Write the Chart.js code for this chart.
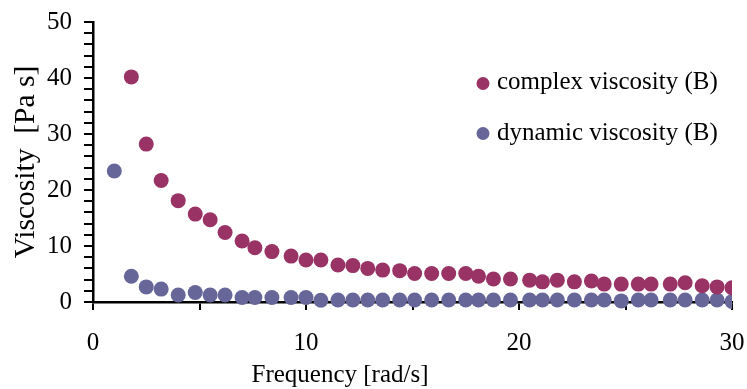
<!DOCTYPE html>
<html>
<head>
<meta charset="utf-8">
<script src="https://cdn.jsdelivr.net/npm/chart.js@4.4.1/dist/chart.umd.min.js"></script>
<style>
  html, body { margin: 0; padding: 0; background: #fff; }
  #wrap { width: 747px; height: 389px; position: relative; }
</style>
</head>
<body>
<div id="wrap"><canvas id="chart"></canvas></div>
<script>
"use strict";

// ── DATA ────────────────────────────────────
const FREQ = [1.0, 1.8, 2.5, 3.2, 4.0, 4.8, 5.5, 6.2, 7.0, 7.6,
              8.4, 9.3, 10.0, 10.7, 11.5, 12.2, 12.9, 13.6, 14.4, 15.1,
              15.9, 16.7, 17.5, 18.1, 18.8, 19.6, 20.5, 21.1, 21.8, 22.6,
              23.4, 24.0, 24.8, 25.6, 26.2, 27.1, 27.8, 28.6, 29.3, 30.0];

// complex viscosity: first frequency is off the top of the scale
const COMPLEX = [null, 40.2, 28.2, 21.7, 18.1, 15.7, 14.7, 12.4, 10.9, 9.7,
                 9.0, 8.2, 7.5, 7.5, 6.6, 6.5, 6.0, 5.7, 5.6, 5.1,
                 5.1, 5.1, 5.1, 4.6, 4.1, 4.1, 3.9, 3.6, 3.9, 3.6,
                 3.75, 3.2, 3.2, 3.2, 3.2, 3.2, 3.45, 2.9, 2.7, 2.55];

const DYNAMIC = [23.4, 4.6, 2.7, 2.3, 1.25, 1.7, 1.25, 1.25, 0.8, 0.8,
                 0.8, 0.8, 0.8, 0.3, 0.35, 0.35, 0.35, 0.35, 0.35, 0.35,
                 0.35, 0.35, 0.35, 0.35, 0.35, 0.35, 0.35, 0.35, 0.35, 0.35,
                 0.35, 0.35, 0.2, 0.35, 0.35, 0.35, 0.35, 0.35, 0.35, 0.1];

const SERIES_LABELS = ["complex viscosity (B)", "dynamic viscosity (B)"];
const X_LABELS = [0, 10, 20, 30];
const Y_LABELS = [0, 10, 20, 30, 40, 50];
const X_TITLE = "Frequency [rad/s]";
const Y_TITLE = "Viscosity  [Pa s]";

// ── STYLE ───────────────────────────────────
const COL_COMPLEX = "#993366";
const COL_DYNAMIC = "#666699";
const FONT = "'Liberation Serif', 'Times New Roman', serif";
const FONT_SIZE = 25;

function toPoints(ys) {
  return FREQ.map((x, i) => ({ x: x, y: ys[i] })).filter(p => p.y !== null);
}

// legend drawn inside the plot, on the right
const innerLegend = {
  id: "innerLegend",
  afterDraw(chart) {
    const ctx = chart.ctx;
    const marks = [83.5, 133.5];   // marker centres
    const bases = [88.5, 140];     // text baselines
    ctx.save();
    ctx.font = FONT_SIZE + "px " + FONT;
    ctx.textBaseline = "alphabetic";
    ctx.textAlign = "left";
    chart.data.datasets.forEach((ds, i) => {
      ctx.beginPath();
      ctx.arc(483, marks[i], 6.5, 0, Math.PI * 2);
      ctx.fillStyle = ds.backgroundColor;
      ctx.fill();
      ctx.fillStyle = "#000";
      ctx.fillText(ds.label, 497, bases[i]);
    });
    ctx.restore();
  }
};

// axis titles, placed where the reference has them
const axisTitles = {
  id: "axisTitles",
  afterDraw(chart) {
    const ctx = chart.ctx;
    const area = chart.chartArea;
    ctx.save();
    ctx.fillStyle = "#000";
    ctx.textAlign = "center";
    ctx.textBaseline = "alphabetic";
    ctx.font = FONT_SIZE + "px " + FONT;
    ctx.fillText(X_TITLE, 340, 382);
    ctx.font = "29.5px " + FONT;
    ctx.translate(34, (area.top + area.bottom) / 2);
    ctx.rotate(-Math.PI / 2);
    ctx.fillText(Y_TITLE, 0, 0);
    ctx.restore();
  }
};

new Chart(document.getElementById("chart"), {
  type: "scatter",
  data: {
    datasets: [{
      label: SERIES_LABELS[0],
      data: toPoints(COMPLEX),
      backgroundColor: COL_COMPLEX,
      borderWidth: 0,
      pointRadius: 7.5,
      clip: { left: 20, top: 20, right: 0, bottom: 20 }
    }, {
      label: SERIES_LABELS[1],
      data: toPoints(DYNAMIC),
      backgroundColor: COL_DYNAMIC,
      borderWidth: 0,
      pointRadius: 7.5,
      clip: { left: 20, top: 20, right: 0, bottom: 20 }
    }]
  },
  options: {
    responsive: true,
    maintainAspectRatio: false,
    animation: false,
    events: [],
    layout: { padding: { top: 22, right: 15, left: 0, bottom: 0 } },
    plugins: {
      legend: { display: false },
      tooltip: { enabled: false }
    },
    scales: {
      x: {
        type: "linear",
        min: 0, max: 30,
        // fixed band height, no extra room for the end labels
        afterFit: s => { s.height = 87; s.paddingLeft = 0; s.paddingRight = 0; },
        ticks: {
          stepSize: 5,
          padding: 18,
          color: "#000",
          font: { family: FONT, size: FONT_SIZE },
          maxRotation: 0,
          callback: v => X_LABELS.includes(v) ? String(v) : ""
        },
        grid: { drawOnChartArea: false, tickLength: 8, color: "#000", lineWidth: 2 },
        border: { color: "#000", width: 2.5 }
      },
      y: {
        min: 0, max: 50,
        afterFit: s => { s.width = 93; s.paddingTop = 0; s.paddingBottom = 0; },
        ticks: {
          stepSize: 2,
          padding: 12,
          autoSkip: false,
          color: "#000",
          font: { family: FONT, size: FONT_SIZE },
          callback: v => Y_LABELS.includes(v) ? String(v) : ""
        },
        grid: { drawOnChartArea: false, tickLength: 9, color: "#000", lineWidth: 2 },
        border: { color: "#000", width: 2.5 }
      }
    }
  },
  plugins: [innerLegend, axisTitles]
});
</script>
</body>
</html>
